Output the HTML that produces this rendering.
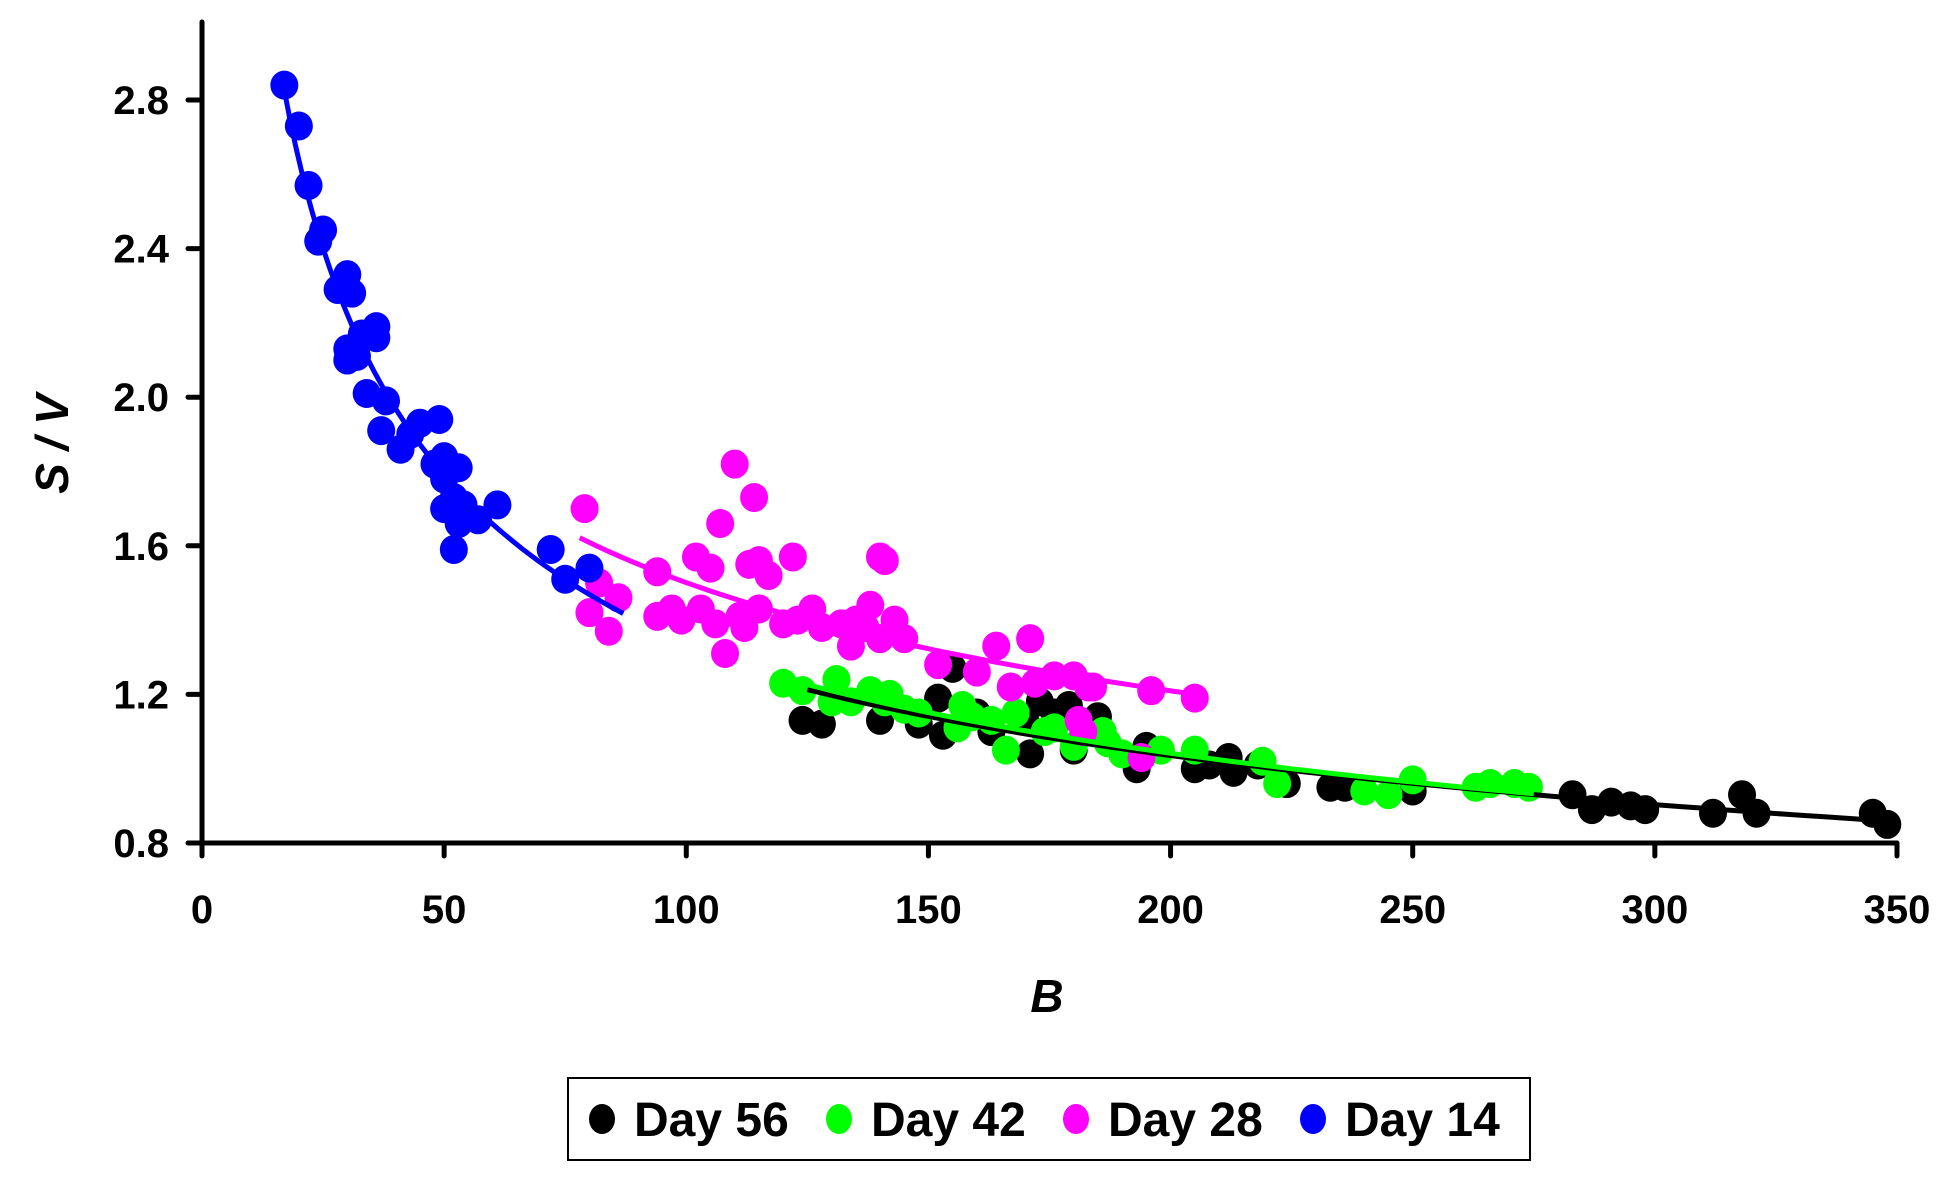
<!DOCTYPE html>
<html><head><meta charset="utf-8"><style>
html,body{margin:0;padding:0;background:#fff;}
svg{display:block;font-family:"Liberation Sans",Arial,sans-serif;font-weight:bold;}
</style></head><body>
<svg id="chart" width="1959" height="1190" viewBox="0 0 1959 1190" xmlns="http://www.w3.org/2000/svg">
<g id="marks"></g>
<g id="axes"></g>
<text x="0" y="0" transform="translate(68,444) rotate(-90)" text-anchor="middle" font-size="46" font-style="italic">S / V</text>
<text x="1047" y="1012" text-anchor="middle" font-size="46" font-style="italic">B</text>
<g>
<rect x="568" y="1078" width="962" height="82" fill="#fff" stroke="#000" stroke-width="2"/>
<ellipse cx="602" cy="1119" rx="13" ry="15" fill="#000"/>
<text x="634" y="1136" font-size="48">Day 56</text>
<ellipse cx="839" cy="1119" rx="13" ry="15" fill="#00ff00"/>
<text x="871" y="1136" font-size="48">Day 42</text>
<ellipse cx="1076" cy="1119" rx="13" ry="15" fill="#ff00ff"/>
<text x="1108" y="1136" font-size="48">Day 28</text>
<ellipse cx="1313" cy="1119" rx="13" ry="15" fill="#0000ff"/>
<text x="1345" y="1136" font-size="48">Day 14</text>
</g>
</svg>
<script>
const xTicks = [0,50,100,150,200,250,300,350];
const yTicks = [0.8,1.2,1.6,2.0,2.4,2.8];
const yTickLabels = ["0.8","1.2","1.6","2.0","2.4","2.8"];
const day56X = [124,128,140,148,152,153,155,160,163,170,171,173,176,179,180,185,193,195,205,208,212,213,218,224,233,236,250,283,287,291,295,298,312,318,321,345,348];
const day56Y = [1.13,1.12,1.13,1.12,1.19,1.09,1.27,1.15,1.10,1.13,1.04,1.18,1.15,1.17,1.05,1.14,1.00,1.06,1.00,1.01,1.03,0.99,1.01,0.96,0.95,0.95,0.94,0.93,0.89,0.91,0.90,0.89,0.88,0.93,0.88,0.88,0.85];
const day42X = [120,124,130,131,134,138,141,142,145,148,156,157,159,163,166,168,174,176,180,186,187,190,198,205,219,222,240,245,250,263,266,271,274];
const day42Y = [1.23,1.21,1.18,1.24,1.18,1.21,1.18,1.20,1.16,1.15,1.11,1.17,1.14,1.13,1.05,1.15,1.10,1.11,1.06,1.10,1.07,1.04,1.05,1.05,1.02,0.96,0.94,0.93,0.97,0.95,0.96,0.96,0.95];
const day28X = [79,80,82,84,86,94,94,97,99,102,103,105,106,107,108,110,111,112,113,114,115,115,117,120,122,123,126,128,132,134,135,137,138,140,141,140,143,145,152,160,164,167,171,172,176,180,183,184,181,182,196,205,194];
const day28Y = [1.70,1.42,1.50,1.37,1.46,1.53,1.41,1.43,1.40,1.57,1.43,1.54,1.39,1.66,1.31,1.82,1.41,1.38,1.55,1.73,1.56,1.43,1.52,1.39,1.57,1.40,1.43,1.38,1.39,1.33,1.40,1.38,1.44,1.57,1.56,1.35,1.40,1.35,1.28,1.26,1.33,1.22,1.35,1.23,1.25,1.25,1.22,1.22,1.13,1.10,1.21,1.19,1.03];
const day14X = [17,20,22,24,25,28,30,31,30,30,32,33,36,36,34,37,38,41,43,45,48,49,50,50,50,52,53,53,52,54,57,61,72,75,80];
const day14Y = [2.84,2.73,2.57,2.42,2.45,2.29,2.33,2.28,2.13,2.10,2.11,2.17,2.19,2.16,2.01,1.91,1.99,1.86,1.90,1.93,1.82,1.94,1.84,1.78,1.70,1.73,1.81,1.66,1.59,1.71,1.67,1.71,1.59,1.51,1.54];
const trendRanges = {day56:[125,350], day42:[120,275], day28:[78,205], day14:[17,87]};

const NS = "http://www.w3.org/2000/svg";
const X0 = 202, X1 = 1897, Y0 = 843, Y1 = 100;
function sx(v){ return X0 + (v - 0) / 350 * (X1 - X0); }
function sy(v){ return Y0 - (v - 0.8) / 2.0 * (Y0 - Y1); }
function mk(tag, attrs, parent){ const e = document.createElementNS(NS, tag); for (const k in attrs) e.setAttribute(k, attrs[k]); parent.appendChild(e); return e; }

const axes = document.getElementById('axes');
const marks = document.getElementById('marks');
let el = mk('line', {x1:X0, y1:22, x2:X0, y2:Y0, stroke:'#000','stroke-width':5,'stroke-linecap':'round'}, axes);


el = mk('line', {x1:X0, y1:Y0, x2:X1, y2:Y0, stroke:'#000','stroke-width':5,'stroke-linecap':'round'}, axes);


xTicks.forEach(function(t){
  const x = sx(t);
  const tk = mk('line', {x1:x, y1:Y0, x2:x, y2:Y0+13, stroke:'#000','stroke-width':5,'stroke-linecap':'round'}, axes);
  
  
  const tx = mk('text', {x:x, y:923, 'text-anchor':'middle','font-size':40}, axes);
  tx.textContent = String(t);
  
  
});
yTicks.forEach(function(t, i){
  const y = sy(t);
  const tk = mk('line', {x1:X0-14, y1:y, x2:X0, y2:y, stroke:'#000','stroke-width':5,'stroke-linecap':'round'}, axes);
  
  
  const tx = mk('text', {x:169, y:y+14, 'text-anchor':'end','font-size':40}, axes);
  tx.textContent = yTickLabels[i];
  
  
});

function powerFit(xs, ys){
  let n = xs.length, sa=0, sb=0, sab=0, saa=0;
  for (let i=0;i<n;i++){ const a=Math.log(xs[i]), b=Math.log(ys[i]); sa+=a; sb+=b; sab+=a*b; saa+=a*a; }
  const bb = (n*sab - sa*sb)/(n*saa - sa*sa);
  const aa = Math.exp((sb - bb*sa)/n);
  return function(x){ return aa*Math.pow(x, bb); };
}

const series = [
  {key:'day56', xs:day56X, ys:day56Y, color:'#000000'},
  {key:'day42', xs:day42X, ys:day42Y, color:'#00ff00'},
  {key:'day28', xs:day28X, ys:day28Y, color:'#ff00ff'},
  {key:'day14', xs:day14X, ys:day14Y, color:'#0000ff'}
];
series.forEach(function(s){
  const g = mk('g', {}, marks);
  
  
  s.xs.forEach(function(xv, i){
    const c = mk('ellipse', {cx:sx(xv), cy:sy(s.ys[i]), rx:14, ry:14.5, fill:s.color}, g);
    
    
  });
});
series.forEach(function(s){
  const f = powerFit(s.xs, s.ys);
  const r = trendRanges[s.key];
  let d = '';
  for (let k=0;k<=60;k++){ const xv = r[0] + (r[1]-r[0])*k/60; d += (k?'L':'M') + sx(xv).toFixed(1) + ',' + sy(f(xv)).toFixed(1); }
  const p = mk('path', {d:d, fill:'none', stroke:s.color, 'stroke-width':5}, marks);
  
  
});
</script>
</body></html>
